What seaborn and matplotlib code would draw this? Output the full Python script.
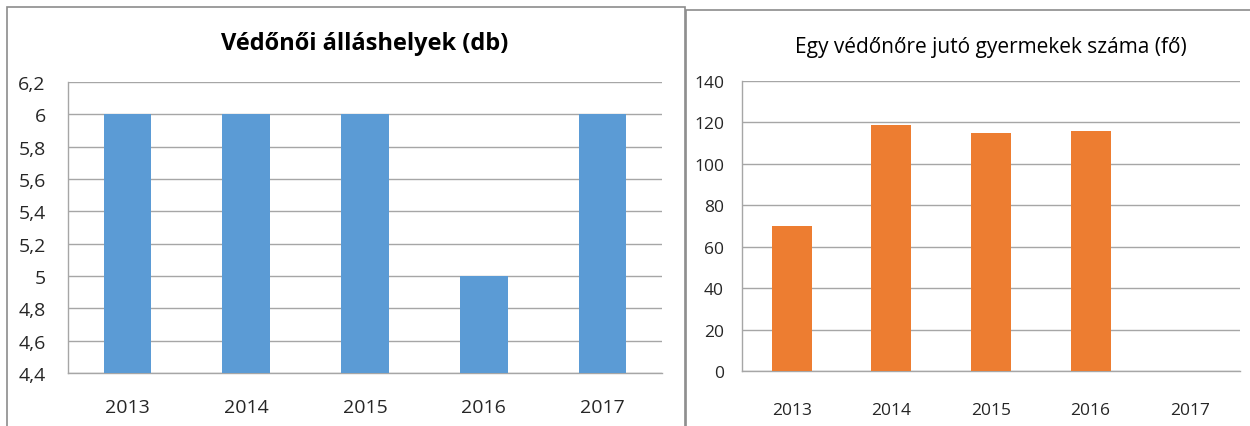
import matplotlib
matplotlib.use("Agg")
import matplotlib.pyplot as plt
import seaborn as sns
import pandas as pd
from matplotlib.patches import Rectangle
from matplotlib.ticker import FixedLocator

years = ["2013", "2014", "2015", "2016", "2017"]
positions = [6, 6, 6, 5, 6]
children = [70, 119, 115, 116, 0]
left_yticks = [4.4, 4.6, 4.8, 5.0, 5.2, 5.4, 5.6, 5.8, 6.0, 6.2]
left_yticklabels = ["4,4", "4,6", "4,8", "5", "5,2", "5,4", "5,6", "5,8", "6", "6,2"]
right_yticks = [0, 20, 40, 60, 80, 100, 120, 140]
title_left = "Védőnői álláshelyek (db)"
title_right = "Egy védőnőre jutó gyermekek száma (fő)"

sns.set_style("white")
plt.rcParams['font.family'] = ['Open Sans', 'DejaVu Sans']

fig = plt.figure(figsize=(12.5, 4.27), dpi=100)

# panel borders
border = "#8c8c8c"
fig.patches.append(Rectangle((7/1250, -0.05), (685-7)/1250, 1 - 8/427 + 0.05,
                             transform=fig.transFigure, fill=False, edgecolor=border, lw=1.2))
fig.patches.append(Rectangle((686/1250, -0.05), 0.5, 1 - 11/427 + 0.05,
                             transform=fig.transFigure, fill=False, edgecolor=border, lw=1.2))

ax1 = fig.add_axes([68/1250, 1-374/427, 594/1250, 291/427])
ax2 = fig.add_axes([742/1250, 1-372/427, 498/1250, 290/427])

df1 = pd.DataFrame({"year": years, "value": positions})
df2 = pd.DataFrame({"year": years, "value": children})
sns.barplot(data=df1, x="year", y="value", color="#5B9BD5", saturation=1, width=0.4,
            linewidth=0, ax=ax1, zorder=3)
sns.barplot(data=df2, x="year", y="value", color="#ED7D31", saturation=1, width=0.4,
            linewidth=0, ax=ax2, zorder=3)

grid_c = "#a6a6a6"
for ax in (ax1, ax2):
    ax.set_xlim(-0.5, 4.5)
    ax.set_xlabel("")
    ax.set_ylabel("")
    for s in ("top", "right"):
        ax.spines[s].set_visible(False)
    for s in ("left", "bottom"):
        ax.spines[s].set_color(grid_c)
        ax.spines[s].set_linewidth(1)
    ax.yaxis.grid(True, color=grid_c, lw=1, zorder=0)
    ax.set_axisbelow(True)
    ax.xaxis.set_minor_locator(FixedLocator([-0.5, 0.5, 1.5, 2.5, 3.5, 4.5]))
    ax.tick_params(axis="x", which="major", length=0, colors="#262626")
    ax.tick_params(axis="x", which="minor", length=6, color=grid_c, width=1, direction="out")
    ax.tick_params(axis="y", width=1, direction="out", colors="#262626")

ax1.set_ylim(4.4, 6.2)
ax1.set_yticks(left_yticks)
ax1.set_yticklabels(left_yticklabels, fontsize=14)
ax1.tick_params(axis="y", length=8, pad=8, color=grid_c)
ax1.tick_params(axis="x", which="major", labelsize=14, pad=18)
ax1.set_title(title_left, fontsize=17, fontweight="bold", color="#000000", pad=0, y=1.115)

ax2.set_ylim(0, 140)
ax2.set_yticks(right_yticks)
ax2.set_yticklabels([str(v) for v in right_yticks], fontsize=12.5)
ax2.tick_params(axis="y", length=5, pad=8, color=grid_c)
ax2.tick_params(axis="x", which="major", labelsize=12.5, pad=22)
ax2.set_title(title_right, fontsize=15, fontweight="medium", color="#000000", pad=0, y=1.1)

fig.savefig("out.png", dpi=100)
